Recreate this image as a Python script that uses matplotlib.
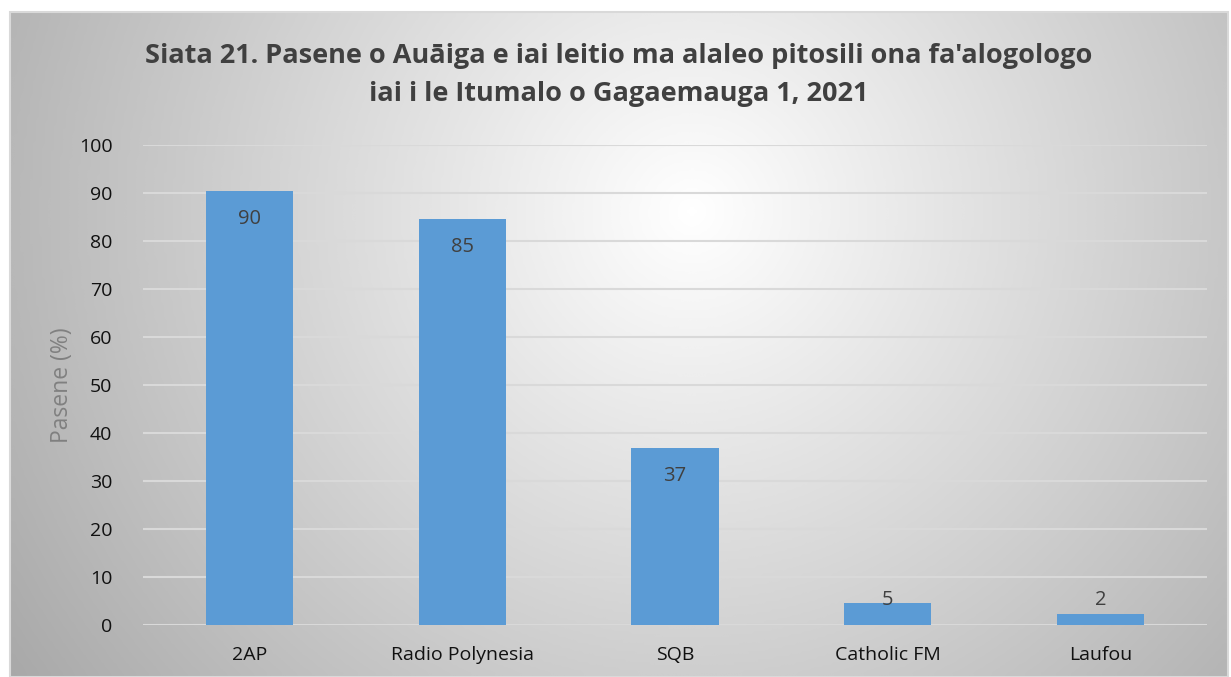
import numpy as np
import matplotlib.pyplot as plt
from matplotlib.patches import Rectangle

# 数据
stations = ['2AP', 'Radio Polynesia', 'SQB', 'Catholic FM', 'Laufou']
percent = [90.4, 84.6, 36.9, 4.6, 2.2]
yticks = [0, 10, 20, 30, 40, 50, 60, 70, 80, 90, 100]

title = "Siata 21. Pasene o Auāiga e iai leitio ma alaleo pitosili ona fa'alogologo\niai i le Itumalo o Gagaemauga 1, 2021"
ylabel = 'Pasene (%)'

plt.rcParams['font.family'] = ['Open Sans', 'DejaVu Sans']

fig = plt.figure(figsize=(12.31, 6.77), dpi=100)

# 背景: 径向渐变
W, H = 1231, 677
fx0, fy0, fx1, fy1 = 10 / W, 0, 1228 / W, 1 - 12 / H
bg = fig.add_axes([fx0, fy0, fx1 - fx0, fy1 - fy0], zorder=0)
gx, gy = np.meshgrid(np.linspace(0, 1, 400), np.linspace(0, 1, 240))
cx, cy = 0.56, 0.30
d = np.sqrt(((gx - cx) * 1.8) ** 2 + ((gy - cy) * 1.0) ** 2)
d = d / d.max()
shade = 1.0 - 0.34 * np.clip(d, 0, 1) ** 1.0
bg.imshow(shade, cmap='gray', vmin=0, vmax=1, aspect='auto',
          extent=[0, 1, 1, 0], interpolation='bicubic')
bg.set_xlim(0, 1)
bg.set_ylim(1, 0)
bg.axis('off')
fig.patches.append(Rectangle((fx0, fy0), fx1 - fx0, fy1 - fy0, transform=fig.transFigure,
                             fill=False, edgecolor='#d9d9d9', linewidth=1.5, zorder=5))

# 主图
ax = fig.add_axes([143 / W, 1 - 625 / H, (1207 - 143) / W, (625 - 145) / H], zorder=1)
ax.patch.set_alpha(0)
x = np.arange(len(stations))
ax.bar(x, percent, width=0.41, color='#5B9BD5', zorder=3)

for xi, v in zip(x, percent):
    ly = max(v - 5.8, 5.2)
    ax.text(xi, ly, str(int(round(v))), ha='center', va='center',
            fontsize=14.5, color='#404040', zorder=4)

ax.set_xlim(-0.5, len(stations) - 0.5)
ax.set_ylim(0, 100)
ax.set_yticks(yticks)
ax.set_xticks(x)
ax.set_xticklabels(stations)
ax.tick_params(axis='both', length=0, labelsize=14, labelcolor='#111111')
ax.tick_params(axis='x', pad=15)
ax.tick_params(axis='y', pad=22)
ax.grid(axis='y', color='#d9d9d9', linewidth=1.5, zorder=1)
for s in ax.spines.values():
    s.set_visible(False)

ax.set_ylabel(ylabel, fontsize=16.5, color='#808080', labelpad=0)
ax.yaxis.set_label_coords(-(143 - 74) / (1207 - 143), 0.5)

fig.text(0.5 * (fx0 + fx1) + 0.0, 1 - 75 / H, title, ha='center', va='center',
         fontsize=19.5, fontweight='bold', color='#404040', linespacing=1.6)

fig.savefig('out.png', dpi=100)
